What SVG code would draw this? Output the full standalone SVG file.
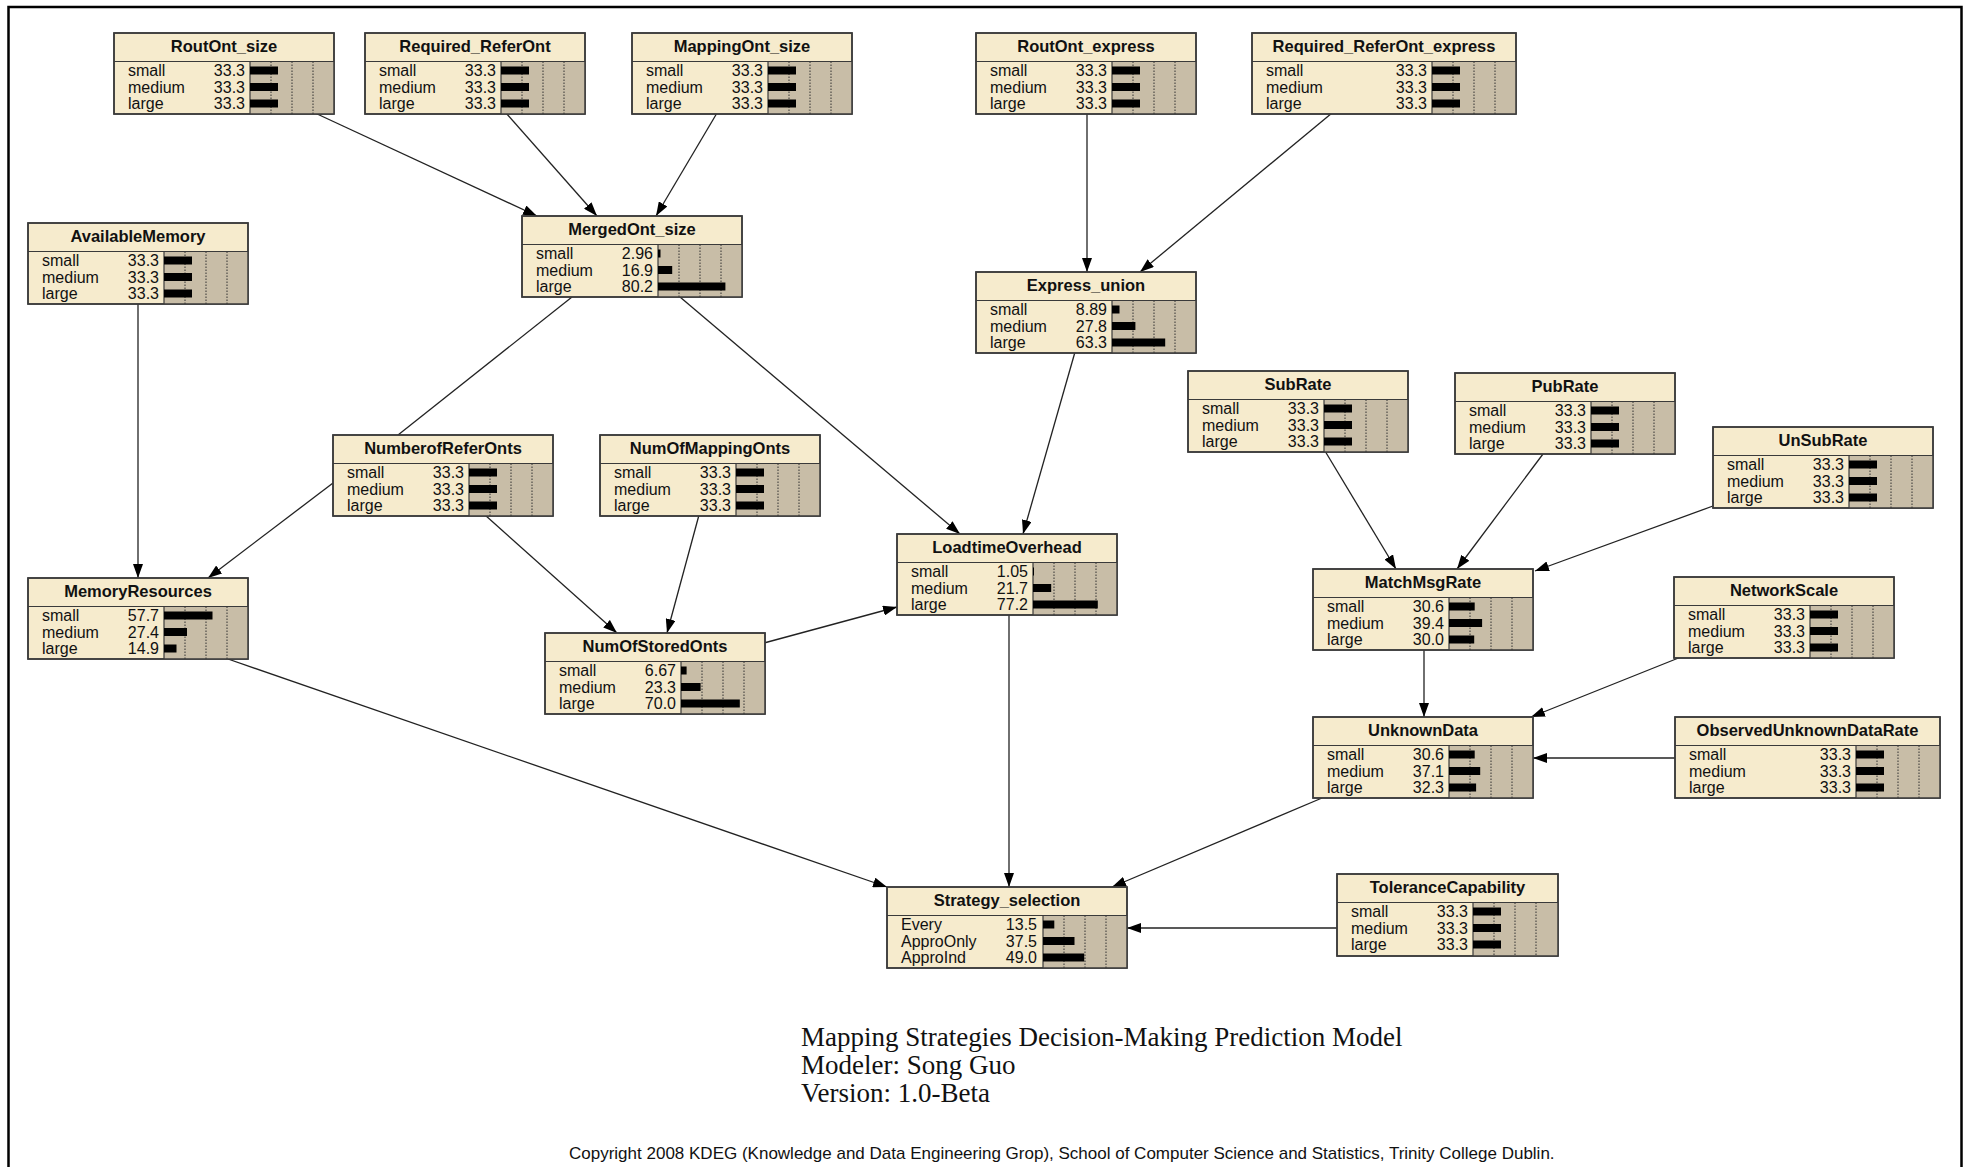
<svg xmlns="http://www.w3.org/2000/svg" width="1965" height="1167" viewBox="0 0 1965 1167">
  <style>
    .box { fill: #F6EBCD; stroke: #3a3a3a; stroke-width: 1.5; }
    .frame { fill: none; stroke: #3a3a3a; stroke-width: 1.5; }
    .pane { fill: #C8BDA7; }
    .rule { stroke: #3a3a3a; stroke-width: 1.2; }
    .grid { stroke: #333; stroke-width: 1; stroke-dasharray: 1.5 1.5; fill: none; }
    .title { font-family: "Liberation Sans", Arial, sans-serif; font-weight: bold; font-size: 16.5px; text-anchor: middle; fill: #111; }
    .lbl { font-family: "Liberation Sans", Arial, sans-serif; font-size: 16px; fill: #111; }
    .val { font-family: "Liberation Sans", Arial, sans-serif; font-size: 16px; fill: #111; text-anchor: end; }
    .bar { fill: #000; }
    .edge { stroke: #222; stroke-width: 1.3; fill: none; }
    .cap { font-family: "Liberation Serif", "Times New Roman", serif; font-size: 27px; fill: #111; }
    .copy { font-family: "Liberation Sans", Arial, sans-serif; font-size: 17px; fill: #111; }
  </style>
  <defs>
    <marker id="arrow" markerUnits="userSpaceOnUse" markerWidth="14" markerHeight="10" refX="14" refY="5" orient="auto">
      <path d="M0,0 L14,5 L0,10 z" fill="#000"/>
    </marker>
  </defs>

  <rect width="1965" height="1167" fill="#fff"/>
  <!-- outer border, open at the bottom -->
  <path d="M8.5,1167 V7 H1961.5 V1167" fill="none" stroke="#000" stroke-width="2.5"/>

  <!-- links between nodes -->
  <g id="connectors">
    <line class="edge" x1="315" y1="113" x2="537" y2="216" marker-end="url(#arrow)"/>
    <line class="edge" x1="506" y1="113" x2="597" y2="216" marker-end="url(#arrow)"/>
    <line class="edge" x1="717" y1="113" x2="656" y2="216" marker-end="url(#arrow)"/>
    <line class="edge" x1="1087" y1="113" x2="1087" y2="272" marker-end="url(#arrow)"/>
    <line class="edge" x1="1332" y1="113" x2="1140" y2="272" marker-end="url(#arrow)"/>
    <line class="edge" x1="138" y1="303" x2="138" y2="578" marker-end="url(#arrow)"/>
    <line class="edge" x1="333" y1="483" x2="208" y2="578" marker-end="url(#arrow)"/>
    <line class="edge" x1="572" y1="297" x2="398" y2="435"/>
    <line class="edge" x1="680" y1="297" x2="960" y2="534" marker-end="url(#arrow)"/>
    <line class="edge" x1="1075" y1="352" x2="1023" y2="534" marker-end="url(#arrow)"/>
    <line class="edge" x1="485" y1="515" x2="617" y2="633" marker-end="url(#arrow)"/>
    <line class="edge" x1="699" y1="515" x2="667" y2="633" marker-end="url(#arrow)"/>
    <line class="edge" x1="764" y1="643" x2="897" y2="607" marker-end="url(#arrow)"/>
    <line class="edge" x1="1009" y1="614" x2="1009" y2="887" marker-end="url(#arrow)"/>
    <line class="edge" x1="228" y1="659" x2="887" y2="887" marker-end="url(#arrow)"/>
    <line class="edge" x1="1322" y1="798" x2="1112" y2="887" marker-end="url(#arrow)"/>
    <line class="edge" x1="1337" y1="928" x2="1127" y2="928" marker-end="url(#arrow)"/>
    <line class="edge" x1="1325" y1="451" x2="1396" y2="569" marker-end="url(#arrow)"/>
    <line class="edge" x1="1543" y1="454" x2="1457" y2="569" marker-end="url(#arrow)"/>
    <line class="edge" x1="1713" y1="506" x2="1535" y2="571" marker-end="url(#arrow)"/>
    <line class="edge" x1="1424" y1="649" x2="1424" y2="717" marker-end="url(#arrow)"/>
    <line class="edge" x1="1681" y1="657" x2="1531" y2="717" marker-end="url(#arrow)"/>
    <line class="edge" x1="1675" y1="758" x2="1533" y2="758" marker-end="url(#arrow)"/>
  </g>

  <!-- belief-bar nodes -->
  <g id="RoutOnt_size" transform="translate(114,33)">
    <rect class="box" width="220" height="81"/>
    <rect class="pane" x="136" y="28.5" width="84" height="52.5"/>
    <path class="grid" d="M157,28.5V81M178,28.5V81M199,28.5V81"/>
    <line class="rule" x1="0" y1="28.5" x2="220" y2="28.5"/><line class="rule" x1="136" y1="28.5" x2="136" y2="81"/>
    <text class="title" x="110" y="18.5">RoutOnt_size</text>
    <text class="lbl" x="14" y="43">small</text><text class="lbl" x="14" y="59.5">medium</text><text class="lbl" x="14" y="76">large</text>
    <text class="val" x="131" y="43">33.3</text><text class="val" x="131" y="59.5">33.3</text><text class="val" x="131" y="76">33.3</text>
    <rect class="bar" x="136" y="33.5" width="28" height="8"/><rect class="bar" x="136" y="50" width="28" height="8"/><rect class="bar" x="136" y="66.5" width="28" height="8"/>
    <rect class="frame" width="220" height="81"/>
  </g>

  <g id="Required_ReferOnt" transform="translate(365,33)">
    <rect class="box" width="220" height="81"/>
    <rect class="pane" x="136" y="28.5" width="84" height="52.5"/>
    <path class="grid" d="M157,28.5V81M178,28.5V81M199,28.5V81"/>
    <line class="rule" x1="0" y1="28.5" x2="220" y2="28.5"/><line class="rule" x1="136" y1="28.5" x2="136" y2="81"/>
    <text class="title" x="110" y="18.5">Required_ReferOnt</text>
    <text class="lbl" x="14" y="43">small</text><text class="lbl" x="14" y="59.5">medium</text><text class="lbl" x="14" y="76">large</text>
    <text class="val" x="131" y="43">33.3</text><text class="val" x="131" y="59.5">33.3</text><text class="val" x="131" y="76">33.3</text>
    <rect class="bar" x="136" y="33.5" width="28" height="8"/><rect class="bar" x="136" y="50" width="28" height="8"/><rect class="bar" x="136" y="66.5" width="28" height="8"/>
    <rect class="frame" width="220" height="81"/>
  </g>

  <g id="MappingOnt_size" transform="translate(632,33)">
    <rect class="box" width="220" height="81"/>
    <rect class="pane" x="136" y="28.5" width="84" height="52.5"/>
    <path class="grid" d="M157,28.5V81M178,28.5V81M199,28.5V81"/>
    <line class="rule" x1="0" y1="28.5" x2="220" y2="28.5"/><line class="rule" x1="136" y1="28.5" x2="136" y2="81"/>
    <text class="title" x="110" y="18.5">MappingOnt_size</text>
    <text class="lbl" x="14" y="43">small</text><text class="lbl" x="14" y="59.5">medium</text><text class="lbl" x="14" y="76">large</text>
    <text class="val" x="131" y="43">33.3</text><text class="val" x="131" y="59.5">33.3</text><text class="val" x="131" y="76">33.3</text>
    <rect class="bar" x="136" y="33.5" width="28" height="8"/><rect class="bar" x="136" y="50" width="28" height="8"/><rect class="bar" x="136" y="66.5" width="28" height="8"/>
    <rect class="frame" width="220" height="81"/>
  </g>

  <g id="RoutOnt_express" transform="translate(976,33)">
    <rect class="box" width="220" height="81"/>
    <rect class="pane" x="136" y="28.5" width="84" height="52.5"/>
    <path class="grid" d="M157,28.5V81M178,28.5V81M199,28.5V81"/>
    <line class="rule" x1="0" y1="28.5" x2="220" y2="28.5"/><line class="rule" x1="136" y1="28.5" x2="136" y2="81"/>
    <text class="title" x="110" y="18.5">RoutOnt_express</text>
    <text class="lbl" x="14" y="43">small</text><text class="lbl" x="14" y="59.5">medium</text><text class="lbl" x="14" y="76">large</text>
    <text class="val" x="131" y="43">33.3</text><text class="val" x="131" y="59.5">33.3</text><text class="val" x="131" y="76">33.3</text>
    <rect class="bar" x="136" y="33.5" width="28" height="8"/><rect class="bar" x="136" y="50" width="28" height="8"/><rect class="bar" x="136" y="66.5" width="28" height="8"/>
    <rect class="frame" width="220" height="81"/>
  </g>

  <g id="Required_ReferOnt_express" transform="translate(1252,33)">
    <rect class="box" width="264" height="81"/>
    <rect class="pane" x="180" y="28.5" width="84" height="52.5"/>
    <path class="grid" d="M201,28.5V81M222,28.5V81M243,28.5V81"/>
    <line class="rule" x1="0" y1="28.5" x2="264" y2="28.5"/><line class="rule" x1="180" y1="28.5" x2="180" y2="81"/>
    <text class="title" x="132" y="18.5">Required_ReferOnt_express</text>
    <text class="lbl" x="14" y="43">small</text><text class="lbl" x="14" y="59.5">medium</text><text class="lbl" x="14" y="76">large</text>
    <text class="val" x="175" y="43">33.3</text><text class="val" x="175" y="59.5">33.3</text><text class="val" x="175" y="76">33.3</text>
    <rect class="bar" x="180" y="33.5" width="28" height="8"/><rect class="bar" x="180" y="50" width="28" height="8"/><rect class="bar" x="180" y="66.5" width="28" height="8"/>
    <rect class="frame" width="264" height="81"/>
  </g>

  <g id="AvailableMemory" transform="translate(28,223)">
    <rect class="box" width="220" height="81"/>
    <rect class="pane" x="136" y="28.5" width="84" height="52.5"/>
    <path class="grid" d="M157,28.5V81M178,28.5V81M199,28.5V81"/>
    <line class="rule" x1="0" y1="28.5" x2="220" y2="28.5"/><line class="rule" x1="136" y1="28.5" x2="136" y2="81"/>
    <text class="title" x="110" y="18.5">AvailableMemory</text>
    <text class="lbl" x="14" y="43">small</text><text class="lbl" x="14" y="59.5">medium</text><text class="lbl" x="14" y="76">large</text>
    <text class="val" x="131" y="43">33.3</text><text class="val" x="131" y="59.5">33.3</text><text class="val" x="131" y="76">33.3</text>
    <rect class="bar" x="136" y="33.5" width="28" height="8"/><rect class="bar" x="136" y="50" width="28" height="8"/><rect class="bar" x="136" y="66.5" width="28" height="8"/>
    <rect class="frame" width="220" height="81"/>
  </g>

  <g id="MergedOnt_size" transform="translate(522,216)">
    <rect class="box" width="220" height="81"/>
    <rect class="pane" x="136" y="28.5" width="84" height="52.5"/>
    <path class="grid" d="M157,28.5V81M178,28.5V81M199,28.5V81"/>
    <line class="rule" x1="0" y1="28.5" x2="220" y2="28.5"/><line class="rule" x1="136" y1="28.5" x2="136" y2="81"/>
    <text class="title" x="110" y="18.5">MergedOnt_size</text>
    <text class="lbl" x="14" y="43">small</text><text class="lbl" x="14" y="59.5">medium</text><text class="lbl" x="14" y="76">large</text>
    <text class="val" x="131" y="43">2.96</text><text class="val" x="131" y="59.5">16.9</text><text class="val" x="131" y="76">80.2</text>
    <rect class="bar" x="136" y="33.5" width="2.5" height="8"/><rect class="bar" x="136" y="50" width="14.2" height="8"/><rect class="bar" x="136" y="66.5" width="67.4" height="8"/>
    <rect class="frame" width="220" height="81"/>
  </g>

  <g id="Express_union" transform="translate(976,272)">
    <rect class="box" width="220" height="81"/>
    <rect class="pane" x="136" y="28.5" width="84" height="52.5"/>
    <path class="grid" d="M157,28.5V81M178,28.5V81M199,28.5V81"/>
    <line class="rule" x1="0" y1="28.5" x2="220" y2="28.5"/><line class="rule" x1="136" y1="28.5" x2="136" y2="81"/>
    <text class="title" x="110" y="18.5">Express_union</text>
    <text class="lbl" x="14" y="43">small</text><text class="lbl" x="14" y="59.5">medium</text><text class="lbl" x="14" y="76">large</text>
    <text class="val" x="131" y="43">8.89</text><text class="val" x="131" y="59.5">27.8</text><text class="val" x="131" y="76">63.3</text>
    <rect class="bar" x="136" y="33.5" width="7.5" height="8"/><rect class="bar" x="136" y="50" width="23.4" height="8"/><rect class="bar" x="136" y="66.5" width="53.2" height="8"/>
    <rect class="frame" width="220" height="81"/>
  </g>

  <g id="SubRate" transform="translate(1188,371)">
    <rect class="box" width="220" height="81"/>
    <rect class="pane" x="136" y="28.5" width="84" height="52.5"/>
    <path class="grid" d="M157,28.5V81M178,28.5V81M199,28.5V81"/>
    <line class="rule" x1="0" y1="28.5" x2="220" y2="28.5"/><line class="rule" x1="136" y1="28.5" x2="136" y2="81"/>
    <text class="title" x="110" y="18.5">SubRate</text>
    <text class="lbl" x="14" y="43">small</text><text class="lbl" x="14" y="59.5">medium</text><text class="lbl" x="14" y="76">large</text>
    <text class="val" x="131" y="43">33.3</text><text class="val" x="131" y="59.5">33.3</text><text class="val" x="131" y="76">33.3</text>
    <rect class="bar" x="136" y="33.5" width="28" height="8"/><rect class="bar" x="136" y="50" width="28" height="8"/><rect class="bar" x="136" y="66.5" width="28" height="8"/>
    <rect class="frame" width="220" height="81"/>
  </g>

  <g id="PubRate" transform="translate(1455,373)">
    <rect class="box" width="220" height="81"/>
    <rect class="pane" x="136" y="28.5" width="84" height="52.5"/>
    <path class="grid" d="M157,28.5V81M178,28.5V81M199,28.5V81"/>
    <line class="rule" x1="0" y1="28.5" x2="220" y2="28.5"/><line class="rule" x1="136" y1="28.5" x2="136" y2="81"/>
    <text class="title" x="110" y="18.5">PubRate</text>
    <text class="lbl" x="14" y="43">small</text><text class="lbl" x="14" y="59.5">medium</text><text class="lbl" x="14" y="76">large</text>
    <text class="val" x="131" y="43">33.3</text><text class="val" x="131" y="59.5">33.3</text><text class="val" x="131" y="76">33.3</text>
    <rect class="bar" x="136" y="33.5" width="28" height="8"/><rect class="bar" x="136" y="50" width="28" height="8"/><rect class="bar" x="136" y="66.5" width="28" height="8"/>
    <rect class="frame" width="220" height="81"/>
  </g>

  <g id="UnSubRate" transform="translate(1713,427)">
    <rect class="box" width="220" height="81"/>
    <rect class="pane" x="136" y="28.5" width="84" height="52.5"/>
    <path class="grid" d="M157,28.5V81M178,28.5V81M199,28.5V81"/>
    <line class="rule" x1="0" y1="28.5" x2="220" y2="28.5"/><line class="rule" x1="136" y1="28.5" x2="136" y2="81"/>
    <text class="title" x="110" y="18.5">UnSubRate</text>
    <text class="lbl" x="14" y="43">small</text><text class="lbl" x="14" y="59.5">medium</text><text class="lbl" x="14" y="76">large</text>
    <text class="val" x="131" y="43">33.3</text><text class="val" x="131" y="59.5">33.3</text><text class="val" x="131" y="76">33.3</text>
    <rect class="bar" x="136" y="33.5" width="28" height="8"/><rect class="bar" x="136" y="50" width="28" height="8"/><rect class="bar" x="136" y="66.5" width="28" height="8"/>
    <rect class="frame" width="220" height="81"/>
  </g>

  <g id="NumberofReferOnts" transform="translate(333,435)">
    <rect class="box" width="220" height="81"/>
    <rect class="pane" x="136" y="28.5" width="84" height="52.5"/>
    <path class="grid" d="M157,28.5V81M178,28.5V81M199,28.5V81"/>
    <line class="rule" x1="0" y1="28.5" x2="220" y2="28.5"/><line class="rule" x1="136" y1="28.5" x2="136" y2="81"/>
    <text class="title" x="110" y="18.5">NumberofReferOnts</text>
    <text class="lbl" x="14" y="43">small</text><text class="lbl" x="14" y="59.5">medium</text><text class="lbl" x="14" y="76">large</text>
    <text class="val" x="131" y="43">33.3</text><text class="val" x="131" y="59.5">33.3</text><text class="val" x="131" y="76">33.3</text>
    <rect class="bar" x="136" y="33.5" width="28" height="8"/><rect class="bar" x="136" y="50" width="28" height="8"/><rect class="bar" x="136" y="66.5" width="28" height="8"/>
    <rect class="frame" width="220" height="81"/>
  </g>

  <g id="NumOfMappingOnts" transform="translate(600,435)">
    <rect class="box" width="220" height="81"/>
    <rect class="pane" x="136" y="28.5" width="84" height="52.5"/>
    <path class="grid" d="M157,28.5V81M178,28.5V81M199,28.5V81"/>
    <line class="rule" x1="0" y1="28.5" x2="220" y2="28.5"/><line class="rule" x1="136" y1="28.5" x2="136" y2="81"/>
    <text class="title" x="110" y="18.5">NumOfMappingOnts</text>
    <text class="lbl" x="14" y="43">small</text><text class="lbl" x="14" y="59.5">medium</text><text class="lbl" x="14" y="76">large</text>
    <text class="val" x="131" y="43">33.3</text><text class="val" x="131" y="59.5">33.3</text><text class="val" x="131" y="76">33.3</text>
    <rect class="bar" x="136" y="33.5" width="28" height="8"/><rect class="bar" x="136" y="50" width="28" height="8"/><rect class="bar" x="136" y="66.5" width="28" height="8"/>
    <rect class="frame" width="220" height="81"/>
  </g>

  <g id="LoadtimeOverhead" transform="translate(897,534)">
    <rect class="box" width="220" height="81"/>
    <rect class="pane" x="136" y="28.5" width="84" height="52.5"/>
    <path class="grid" d="M157,28.5V81M178,28.5V81M199,28.5V81"/>
    <line class="rule" x1="0" y1="28.5" x2="220" y2="28.5"/><line class="rule" x1="136" y1="28.5" x2="136" y2="81"/>
    <text class="title" x="110" y="18.5">LoadtimeOverhead</text>
    <text class="lbl" x="14" y="43">small</text><text class="lbl" x="14" y="59.5">medium</text><text class="lbl" x="14" y="76">large</text>
    <text class="val" x="131" y="43">1.05</text><text class="val" x="131" y="59.5">21.7</text><text class="val" x="131" y="76">77.2</text>
    <rect class="bar" x="136" y="33.5" width="1" height="8"/><rect class="bar" x="136" y="50" width="18.2" height="8"/><rect class="bar" x="136" y="66.5" width="64.8" height="8"/>
    <rect class="frame" width="220" height="81"/>
  </g>

  <g id="MatchMsgRate" transform="translate(1313,569)">
    <rect class="box" width="220" height="81"/>
    <rect class="pane" x="136" y="28.5" width="84" height="52.5"/>
    <path class="grid" d="M157,28.5V81M178,28.5V81M199,28.5V81"/>
    <line class="rule" x1="0" y1="28.5" x2="220" y2="28.5"/><line class="rule" x1="136" y1="28.5" x2="136" y2="81"/>
    <text class="title" x="110" y="18.5">MatchMsgRate</text>
    <text class="lbl" x="14" y="43">small</text><text class="lbl" x="14" y="59.5">medium</text><text class="lbl" x="14" y="76">large</text>
    <text class="val" x="131" y="43">30.6</text><text class="val" x="131" y="59.5">39.4</text><text class="val" x="131" y="76">30.0</text>
    <rect class="bar" x="136" y="33.5" width="25.7" height="8"/><rect class="bar" x="136" y="50" width="33.1" height="8"/><rect class="bar" x="136" y="66.5" width="25.2" height="8"/>
    <rect class="frame" width="220" height="81"/>
  </g>

  <g id="NetworkScale" transform="translate(1674,577)">
    <rect class="box" width="220" height="81"/>
    <rect class="pane" x="136" y="28.5" width="84" height="52.5"/>
    <path class="grid" d="M157,28.5V81M178,28.5V81M199,28.5V81"/>
    <line class="rule" x1="0" y1="28.5" x2="220" y2="28.5"/><line class="rule" x1="136" y1="28.5" x2="136" y2="81"/>
    <text class="title" x="110" y="18.5">NetworkScale</text>
    <text class="lbl" x="14" y="43">small</text><text class="lbl" x="14" y="59.5">medium</text><text class="lbl" x="14" y="76">large</text>
    <text class="val" x="131" y="43">33.3</text><text class="val" x="131" y="59.5">33.3</text><text class="val" x="131" y="76">33.3</text>
    <rect class="bar" x="136" y="33.5" width="28" height="8"/><rect class="bar" x="136" y="50" width="28" height="8"/><rect class="bar" x="136" y="66.5" width="28" height="8"/>
    <rect class="frame" width="220" height="81"/>
  </g>

  <g id="MemoryResources" transform="translate(28,578)">
    <rect class="box" width="220" height="81"/>
    <rect class="pane" x="136" y="28.5" width="84" height="52.5"/>
    <path class="grid" d="M157,28.5V81M178,28.5V81M199,28.5V81"/>
    <line class="rule" x1="0" y1="28.5" x2="220" y2="28.5"/><line class="rule" x1="136" y1="28.5" x2="136" y2="81"/>
    <text class="title" x="110" y="18.5">MemoryResources</text>
    <text class="lbl" x="14" y="43">small</text><text class="lbl" x="14" y="59.5">medium</text><text class="lbl" x="14" y="76">large</text>
    <text class="val" x="131" y="43">57.7</text><text class="val" x="131" y="59.5">27.4</text><text class="val" x="131" y="76">14.9</text>
    <rect class="bar" x="136" y="33.5" width="48.5" height="8"/><rect class="bar" x="136" y="50" width="23" height="8"/><rect class="bar" x="136" y="66.5" width="12.5" height="8"/>
    <rect class="frame" width="220" height="81"/>
  </g>

  <g id="NumOfStoredOnts" transform="translate(545,633)">
    <rect class="box" width="220" height="81"/>
    <rect class="pane" x="136" y="28.5" width="84" height="52.5"/>
    <path class="grid" d="M157,28.5V81M178,28.5V81M199,28.5V81"/>
    <line class="rule" x1="0" y1="28.5" x2="220" y2="28.5"/><line class="rule" x1="136" y1="28.5" x2="136" y2="81"/>
    <text class="title" x="110" y="18.5">NumOfStoredOnts</text>
    <text class="lbl" x="14" y="43">small</text><text class="lbl" x="14" y="59.5">medium</text><text class="lbl" x="14" y="76">large</text>
    <text class="val" x="131" y="43">6.67</text><text class="val" x="131" y="59.5">23.3</text><text class="val" x="131" y="76">70.0</text>
    <rect class="bar" x="136" y="33.5" width="5.6" height="8"/><rect class="bar" x="136" y="50" width="19.6" height="8"/><rect class="bar" x="136" y="66.5" width="58.8" height="8"/>
    <rect class="frame" width="220" height="81"/>
  </g>

  <g id="UnknownData" transform="translate(1313,717)">
    <rect class="box" width="220" height="81"/>
    <rect class="pane" x="136" y="28.5" width="84" height="52.5"/>
    <path class="grid" d="M157,28.5V81M178,28.5V81M199,28.5V81"/>
    <line class="rule" x1="0" y1="28.5" x2="220" y2="28.5"/><line class="rule" x1="136" y1="28.5" x2="136" y2="81"/>
    <text class="title" x="110" y="18.5">UnknownData</text>
    <text class="lbl" x="14" y="43">small</text><text class="lbl" x="14" y="59.5">medium</text><text class="lbl" x="14" y="76">large</text>
    <text class="val" x="131" y="43">30.6</text><text class="val" x="131" y="59.5">37.1</text><text class="val" x="131" y="76">32.3</text>
    <rect class="bar" x="136" y="33.5" width="25.7" height="8"/><rect class="bar" x="136" y="50" width="31.2" height="8"/><rect class="bar" x="136" y="66.5" width="27.1" height="8"/>
    <rect class="frame" width="220" height="81"/>
  </g>

  <g id="ObservedUnknownDataRate" transform="translate(1675,717)">
    <rect class="box" width="265" height="81"/>
    <rect class="pane" x="181" y="28.5" width="84" height="52.5"/>
    <path class="grid" d="M202,28.5V81M223,28.5V81M244,28.5V81"/>
    <line class="rule" x1="0" y1="28.5" x2="265" y2="28.5"/><line class="rule" x1="181" y1="28.5" x2="181" y2="81"/>
    <text class="title" x="132.5" y="18.5">ObservedUnknownDataRate</text>
    <text class="lbl" x="14" y="43">small</text><text class="lbl" x="14" y="59.5">medium</text><text class="lbl" x="14" y="76">large</text>
    <text class="val" x="176" y="43">33.3</text><text class="val" x="176" y="59.5">33.3</text><text class="val" x="176" y="76">33.3</text>
    <rect class="bar" x="181" y="33.5" width="28" height="8"/><rect class="bar" x="181" y="50" width="28" height="8"/><rect class="bar" x="181" y="66.5" width="28" height="8"/>
    <rect class="frame" width="265" height="81"/>
  </g>

  <g id="Strategy_selection" transform="translate(887,887)">
    <rect class="box" width="240" height="81"/>
    <rect class="pane" x="156" y="28.5" width="84" height="52.5"/>
    <path class="grid" d="M177,28.5V81M198,28.5V81M219,28.5V81"/>
    <line class="rule" x1="0" y1="28.5" x2="240" y2="28.5"/><line class="rule" x1="156" y1="28.5" x2="156" y2="81"/>
    <text class="title" x="120" y="18.5">Strategy_selection</text>
    <text class="lbl" x="14" y="43">Every</text><text class="lbl" x="14" y="59.5">ApproOnly</text><text class="lbl" x="14" y="76">ApproInd</text>
    <text class="val" x="150" y="43">13.5</text><text class="val" x="150" y="59.5">37.5</text><text class="val" x="150" y="76">49.0</text>
    <rect class="bar" x="156" y="33.5" width="11.3" height="8"/><rect class="bar" x="156" y="50" width="31.5" height="8"/><rect class="bar" x="156" y="66.5" width="41.2" height="8"/>
    <rect class="frame" width="240" height="81"/>
  </g>

  <g id="ToleranceCapability" transform="translate(1337,874)">
    <rect class="box" width="221" height="82"/>
    <rect class="pane" x="136" y="28.5" width="85" height="53.5"/>
    <path class="grid" d="M157,28.5V82M178,28.5V82M199,28.5V82"/>
    <line class="rule" x1="0" y1="28.5" x2="221" y2="28.5"/><line class="rule" x1="136" y1="28.5" x2="136" y2="82"/>
    <text class="title" x="110.5" y="18.5">ToleranceCapability</text>
    <text class="lbl" x="14" y="43">small</text><text class="lbl" x="14" y="59.5">medium</text><text class="lbl" x="14" y="76">large</text>
    <text class="val" x="131" y="43">33.3</text><text class="val" x="131" y="59.5">33.3</text><text class="val" x="131" y="76">33.3</text>
    <rect class="bar" x="136" y="33.5" width="28" height="8"/><rect class="bar" x="136" y="50" width="28" height="8"/><rect class="bar" x="136" y="66.5" width="28" height="8"/>
    <rect class="frame" width="221" height="82"/>
  </g>

  <!-- model caption -->
  <g id="caption">
    <text class="cap" x="801" y="1046">Mapping Strategies Decision-Making Prediction Model</text>
    <text class="cap" x="801" y="1074">Modeler: Song Guo</text>
    <text class="cap" x="801" y="1102">Version: 1.0-Beta</text>
    <text class="copy" x="569" y="1159">Copyright 2008 KDEG (Knowledge and Data Engineering Grop), School of Computer Science and Statistics, Trinity College Dublin.</text>
  </g>
</svg>
